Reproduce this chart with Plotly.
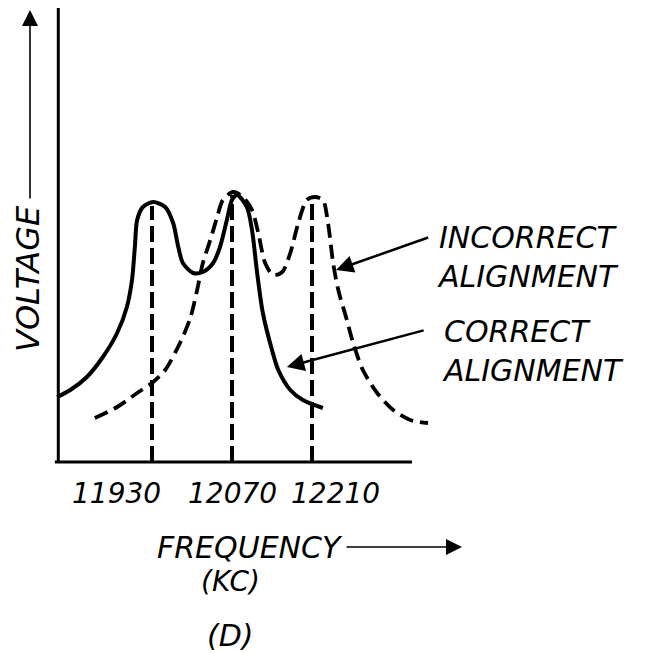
import plotly.graph_objects as go

# ---------------- data ----------------
freq_correct = [11764, 11787, 11816, 11844, 11869, 11886, 11895, 11900, 11904, 11914,
                11932, 11953, 11967, 11976, 11984, 12002, 12019, 12037, 12049, 12061,
                12070, 12079, 12096, 12105, 12114, 12124, 12140, 12151, 12172, 12194,
                12229]
volt_correct = [0.65, 0.72, 0.85, 1.05, 1.29, 1.55, 1.82, 2.15, 2.42, 2.55,
                2.60, 2.55, 2.39, 2.15, 1.99, 1.89, 1.90, 1.99, 2.15, 2.42,
                2.62, 2.67, 2.55, 2.32, 1.89, 1.49, 1.12, 0.92, 0.72, 0.62,
                0.54]

freq_incorrect = [11830, 11869, 11904, 11932, 11953, 11979, 11997, 12009, 12019, 12032,
                  12044, 12054, 12072, 12089, 12105, 12116, 12128, 12142, 12158, 12172,
                  12186, 12201, 12215, 12229, 12238, 12247, 12256, 12271, 12282, 12299,
                  12324, 12352, 12382, 12413]
volt_incorrect = [0.44, 0.55, 0.69, 0.80, 0.92, 1.19, 1.44, 1.72, 1.99, 2.22,
                  2.45, 2.62, 2.70, 2.65, 2.52, 2.29, 1.99, 1.87, 1.90, 2.09,
                  2.39, 2.62, 2.65, 2.62, 2.39, 1.99, 1.72, 1.42, 1.19, 0.92,
                  0.69, 0.52, 0.42, 0.39]

marker_freqs = [11930, 12070, 12210]
marker_peaks = [2.56, 2.67, 2.62]
tick_labels = ["11930", "12070", "12210"]

axis_x_start = 11760
axis_x_end = 12385
axis_y_top = 4.54

# ---------------- layout geometry ----------------
W, H = 659, 653
L, R, T, B = 40, 209, 4, 181
X0, X1 = 11734, 12451.5
Y0, Y1 = -0.10, 4.58


def pxp(x):
    return (x - L) / (W - L - R)


def pyp(y):
    return (H - B - y) / (H - T - B)


FONT = "DejaVu Sans"
txt = dict(family=FONT, color="black", style="italic")

fig = go.Figure()

# vertical dashed marker lines
for f, p in zip(marker_freqs, marker_peaks):
    fig.add_trace(go.Scatter(x=[f, f], y=[0, p], mode="lines",
                             line=dict(color="black", width=4, dash="16px,6px"),
                             hoverinfo="skip", showlegend=False))

fig.add_trace(go.Scatter(x=freq_incorrect, y=volt_incorrect, mode="lines",
                         line=dict(color="black", width=3.8, dash="14px,7px",
                                   shape="spline", smoothing=0.8),
                         name="Incorrect alignment", showlegend=False))
fig.add_trace(go.Scatter(x=freq_correct, y=volt_correct, mode="lines",
                         line=dict(color="black", width=4, shape="spline", smoothing=0.8),
                         name="Correct alignment", showlegend=False))

# axis lines
fig.add_shape(type="line", xref="x", yref="y", x0=axis_x_start, x1=axis_x_end, y0=0, y1=0,
              line=dict(color="black", width=3))
fig.add_shape(type="line", xref="x", yref="y", x0=11766, x1=11766, y0=0, y1=axis_y_top,
              line=dict(color="black", width=3))

ann = []
# tick labels
for f, lab, xs in zip(marker_freqs, tick_labels, [-36, 0, 23]):
    ann.append(dict(x=f, xref="x", y=pyp(493), yref="paper", text=lab, showarrow=False,
                    xanchor="center", yanchor="middle",
                    xshift=xs, font=dict(size=28, **txt)))

# pointer arrows
ann.append(dict(x=12252, y=1.92, xref="x", yref="y", ax=12416, ay=2.25, axref="x", ayref="y",
                showarrow=True, arrowhead=2, arrowsize=1.4, arrowwidth=2.5, arrowcolor="black",
                text=""))
ann.append(dict(x=12166, y=0.95, xref="x", yref="y", ax=12408, ay=1.32, axref="x", ayref="y",
                showarrow=True, arrowhead=2, arrowsize=1.4, arrowwidth=2.5, arrowcolor="black",
                text=""))

# labels (two lines each)
for text, x, y in [("INCORRECT<br>ALIGNMENT", 435, 257),
                   ("CORRECT<br>ALIGNMENT", 440, 351)]:
    ann.append(dict(x=pxp(x), y=pyp(y), xref="paper", yref="paper", xanchor="left",
                    yanchor="middle", align="left", text=text, showarrow=False,
                    font=dict(size=30, **txt)))

# voltage label and arrow
ann.append(dict(x=pxp(28), y=pyp(279), xref="paper", yref="paper", text="VOLTAGE",
                xanchor="center", yanchor="middle",
                textangle=-90, showarrow=False, font=dict(size=32, **txt)))
ann.append(dict(x=pxp(30), y=pyp(10), xref="paper", yref="paper", ax=0, ay=190,
                showarrow=True, arrowhead=2, arrowsize=2, arrowwidth=1.6,
                arrowcolor="black", text=""))

# frequency label and arrow
ann.append(dict(x=pxp(250), y=pyp(547), xref="paper", yref="paper", text="FREQUENCY",
                xanchor="center", yanchor="middle",
                showarrow=False, font=dict(size=30, **txt)))
ann.append(dict(x=pxp(462), y=pyp(547), xref="paper", yref="paper", ax=-117, ay=0,
                showarrow=True, arrowhead=2, arrowsize=2, arrowwidth=1.6,
                arrowcolor="black", text=""))
ann.append(dict(x=pxp(230), y=pyp(581), xref="paper", yref="paper", text="(KC)",
                xanchor="center", yanchor="middle",
                showarrow=False, font=dict(size=28, **txt)))
ann.append(dict(x=pxp(230), y=pyp(635), xref="paper", yref="paper", text="(D)",
                xanchor="center", yanchor="middle",
                showarrow=False, font=dict(size=30, **txt)))

fig.update_layout(
    width=W, height=H,
    margin=dict(l=L, r=R, t=T, b=B, pad=0),
    paper_bgcolor="white", plot_bgcolor="white",
    xaxis=dict(range=[X0, X1], visible=False, fixedrange=True),
    yaxis=dict(range=[Y0, Y1], visible=False, fixedrange=True),
    annotations=ann,
    showlegend=False,
)

fig.write_html("out.html", config={"displayModeBar": False},
               post_script="document.body.style.margin='0';document.body.style.overflow='hidden';")
